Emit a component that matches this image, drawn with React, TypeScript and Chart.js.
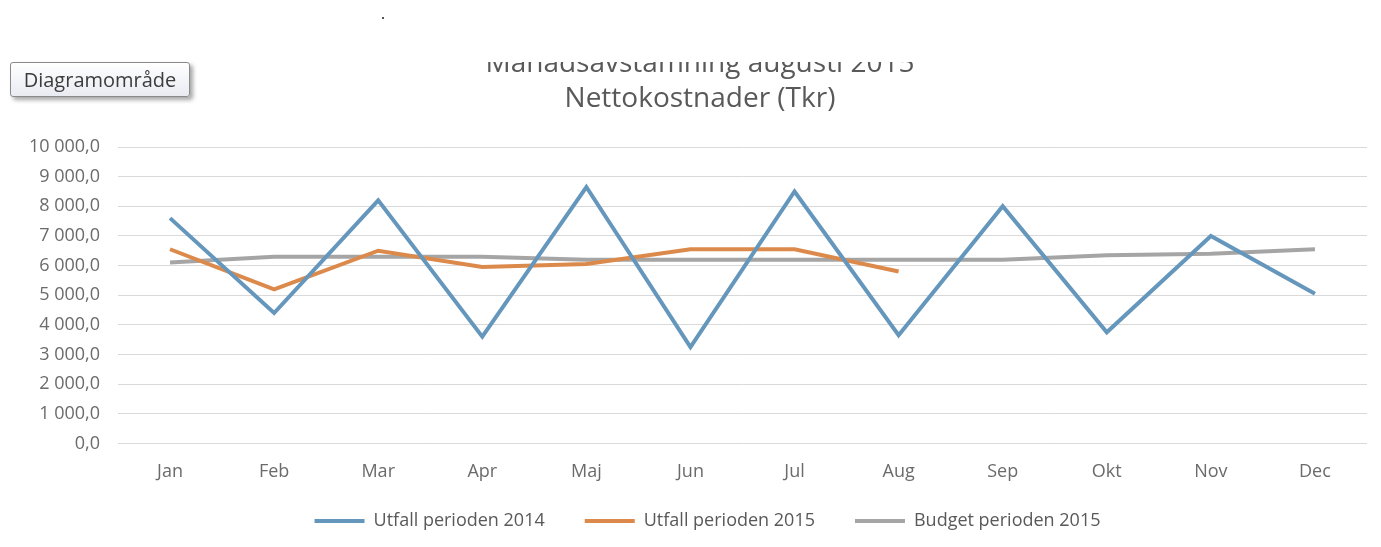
import React, { useEffect, useRef } from "react";
import { Chart, registerables } from "chart.js";

Chart.register(...registerables);

const TITLE_LINES = ["Månadsavstämning augusti 2015", "Nettokostnader (Tkr)"];
const MONTHS = ["Jan", "Feb", "Mar", "Apr", "Maj", "Jun", "Jul", "Aug", "Sep", "Okt", "Nov", "Dec"];
const SERIES_NAMES = ["Utfall perioden 2014", "Utfall perioden 2015", "Budget perioden 2015"];
const UTFALL_2014 = [7600, 4400, 8200, 3600, 8650, 3250, 8500, 3650, 8000, 3750, 7000, 5050];
const UTFALL_2015 = [6550, 5200, 6500, 5950, 6050, 6550, 6550, 5800, null, null, null, null];
const BUDGET_2015 = [6100, 6300, 6300, 6300, 6200, 6200, 6200, 6200, 6200, 6350, 6400, 6550];
const Y_MIN = 0;
const Y_MAX = 10000;
const Y_STEP = 1000;

const COLORS = ["#6597bd", "#dc8a4c", "#a5a5a5"];
const FONT = '"Open Sans", "Noto Sans", sans-serif';

function formatTick(v: number): string {
  const s = Number(v).toFixed(1);
  const [i, d] = s.split(".");
  return i.replace(/\B(?=(\d{3})+(?!\d))/g, " ") + "," + d;
}

const titlePlugin = {
  id: "clippedTitle",
  afterDraw(chart: any) {
    const ctx = chart.ctx;
    ctx.save();
    ctx.beginPath();
    ctx.rect(0, 62, chart.width, chart.height);
    ctx.clip();
    ctx.fillStyle = "#595959";
    ctx.textAlign = "center";
    ctx.textBaseline = "alphabetic";
    ctx.font = `28px ${FONT}`;
    ctx.fillText(TITLE_LINES[0], 700, 72);
    ctx.fillText(TITLE_LINES[1], 700, 107);
    ctx.restore();
  },
};

const legendShiftPlugin = {
  id: "legendShift",
  afterLayout(chart: any) {
    const l = chart.legend;
    if (!l) return;
    l.top -= 29;
    l.bottom -= 29;
    l.left += 24;
    l.right += 24;
  },
};

export default function App() {
  const ref = useRef<HTMLCanvasElement>(null);

  useEffect(() => {
    if (!ref.current) return;
    const seriesData = [UTFALL_2014, UTFALL_2015, BUDGET_2015];
    const chart = new Chart(ref.current, {
      type: "line",
      data: {
        labels: MONTHS,
        datasets: seriesData.map((d, i) => ({
          label: SERIES_NAMES[i],
          data: d,
          borderColor: COLORS[i],
          backgroundColor: COLORS[i],
          borderWidth: 4,
          pointRadius: 0,
          tension: 0,
          fill: false,
          spanGaps: false,
        })),
      },
      options: {
        responsive: false,
        animation: false,
        layout: { padding: { top: 147, left: 0, right: 14, bottom: -22 } },
        plugins: {
          title: { display: false },
          tooltip: { enabled: false },
          legend: {
            position: "bottom",
            labels: {
              boxWidth: 50,
              boxHeight: 4,
              padding: 40,
              color: "#595959",
              font: { family: FONT, size: 18 },
              generateLabels: (c: any) =>
                c.data.datasets.map((ds: any, i: number) => ({
                  text: ds.label,
                  fillStyle: COLORS[i],
                  strokeStyle: COLORS[i],
                  lineWidth: 0,
                  hidden: false,
                  datasetIndex: i,
                  fontColor: "#595959",
                })),
            },
          },
        },
        scales: {
          x: {
            offset: true,
            grid: { display: false, drawTicks: false },
            border: { display: false },
            ticks: { padding: 18, color: "#6b6b6b", font: { family: FONT, size: 18 }, maxRotation: 0 },
          },
          y: {
            min: Y_MIN,
            max: Y_MAX,
            grid: { color: "#d9d9d9", lineWidth: 1, drawTicks: false },
            border: { display: false },
            ticks: {
              stepSize: Y_STEP,
              padding: 18,
              color: "#6b6b6b",
              font: { family: FONT, size: 18 },
              callback: (v: any) => formatTick(v),
            },
            afterFit: (s: any) => {
              s.width = 118;
            },
          },
        },
      },
      plugins: [titlePlugin, legendShiftPlugin],
    });
    return () => chart.destroy();
  }, []);

  return (
    <div style={{ position: "fixed", left: 0, top: 0, width: 1381, height: 547, background: "#fff" }}>
      <canvas ref={ref} width={1381} height={547} style={{ display: "block", width: 1381, height: 547 }} />
      <div
        style={{
          position: "absolute",
          left: 382,
          top: 17,
          width: 2,
          height: 2,
          background: "#555",
        }}
      />
      <div
        style={{
          position: "absolute",
          left: 10,
          top: 62,
          width: 180,
          height: 35,
          boxSizing: "border-box",
          border: "1px solid #8a8a8a",
          borderRadius: 3,
          background: "linear-gradient(#ffffff, #e9ebf2)",
          boxShadow: "3px 3px 4px rgba(0,0,0,0.35)",
          fontFamily: FONT,
          fontSize: 20,
          color: "#3c3c3c",
          display: "flex",
          alignItems: "center",
          justifyContent: "center",
          lineHeight: 1,
        }}
      >
        Diagramområde
      </div>
    </div>
  );
}
